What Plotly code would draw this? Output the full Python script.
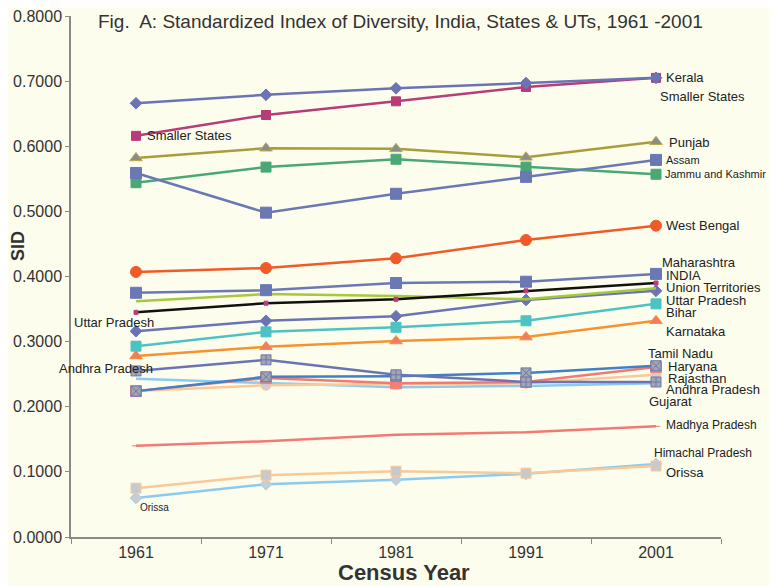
import plotly.graph_objects as go

years = ["1961", "1971", "1981", "1991", "2001"]

smaller_states = [0.666, 0.679, 0.689, 0.697, 0.705]
kerala = [0.616, 0.648, 0.669, 0.691, 0.705]
punjab = [0.582, 0.597, 0.596, 0.583, 0.607]
jammu_kashmir = [0.544, 0.568, 0.580, 0.568, 0.557]
assam = [0.559, 0.498, 0.527, 0.553, 0.579]
west_bengal = [0.407, 0.413, 0.428, 0.456, 0.478]
india = [0.375, 0.379, 0.390, 0.392, 0.404]
union_territories = [0.362, 0.373, 0.370, 0.365, 0.382]
maharashtra = [0.345, 0.359, 0.365, 0.378, 0.390]
uttar_pradesh = [0.316, 0.332, 0.339, 0.364, 0.378]
bihar = [0.293, 0.315, 0.322, 0.332, 0.358]
karnataka = [0.278, 0.292, 0.301, 0.307, 0.332]
andhra_pradesh = [0.255, 0.272, 0.249, 0.238, 0.238]
tamil_nadu = [0.224, 0.246, 0.247, 0.252, 0.263]
haryana = [0.224, 0.244, 0.236, 0.238, 0.261]
rajasthan = [0.224, 0.233, 0.235, 0.236, 0.249]
gujarat = [0.243, 0.236, 0.230, 0.232, 0.236]
madhya_pradesh = [0.140, 0.147, 0.157, 0.161, 0.170]
himachal_pradesh = [0.075, 0.095, 0.101, 0.098, 0.109]
orissa = [0.060, 0.081, 0.088, 0.097, 0.112]

y_ticks = [0.0, 0.1, 0.2, 0.3, 0.4, 0.5, 0.6, 0.7, 0.8]
y_tick_text = ["0.0000", "0.1000", "0.2000", "0.3000", "0.4000", "0.5000", "0.6000", "0.7000", "0.8000"]

fig = go.Figure()

def add(name, vals, color, symbol=None, size=9, mfill=None, mline=None, width=2.5):
    if symbol is None:
        mode = "lines"
        marker = None
    else:
        mode = "lines+markers"
        marker = dict(symbol=symbol, size=size, color=mfill or color,
                      line=dict(color=mline or (mfill or color), width=1))
    fig.add_trace(go.Scatter(x=years, y=vals, name=name, mode=mode,
                             line=dict(color=color, width=width),
                             marker=marker))

add("Orissa", orissa, "#8ccbee", "diamond", 9, "#c8ccd4", "#9fd0ee")
add("Himachal Pradesh", himachal_pradesh, "#f9c998", "square", 10, "#c9c9cb", "#f9c998")
add("Madhya Pradesh", madhya_pradesh, "#f27a72", "line-ew", 6, "#f27a72", "#f27a72")
add("Gujarat", gujarat, "#8ccbee")
add("Rajasthan", rajasthan, "#f9c998", "circle", 10, "#cfcfd1", "#f9c998")
add("Haryana", haryana, "#f27a72", "square", 11, "#f28078", "#f28078")
add("Tamil Nadu", tamil_nadu, "#3f80c8", "square-x", 10, "#a4a6ac", "#6a78b4")
add("Andhra Pradesh", andhra_pradesh, "#6a74b4", "square-cross", 10, "#a4a6ac", "#6a78b4")
add("Karnataka", karnataka, "#f7922e", "triangle-up", 11, "#f27c62", "#f7922e")
add("Bihar", bihar, "#4cc3c2", "square", 10)
add("Uttar Pradesh", uttar_pradesh, "#6a74b4", "diamond", 9)
add("Union Territories", union_territories, "#a6c93c")
add("Maharashtra", maharashtra, "#111111", "square", 4, "#b83c78", "#b83c78")
add("INDIA", india, "#6a78b4", "square", 11)
add("West Bengal", west_bengal, "#f05a28", "circle", 11)
add("Jammu and Kashmir", jammu_kashmir, "#4aa874", "square", 10)
add("Assam", assam, "#6a78b4", "square", 11)
add("Punjab", punjab, "#a89d3c", "triangle-up", 11, "#8c8c8c", "#b8aa48")
add("Kerala", kerala, "#b83c78", "square", 9)
add("Smaller States", smaller_states, "#6a74b4", "diamond", 9)

# plot area in page pixels (page has an 8px body margin)
OFF = 8
L, R, T, B = 71, 721, 16, 537
W = R - L
FW, FH = 777 - OFF, 586 - OFF

def px(x, y):
    return (x - L) / W, (B - y) / (B - T)

labels = [
    ("Smaller States", 145, 136, 13),
    ("Kerala", 664, 77, 13),
    ("Smaller States", 658, 96, 13),
    ("Punjab", 667, 142, 13),
    ("Assam", 664, 160, 11),
    ("Jammu and Kashmir", 663, 174, 11),
    ("West Bengal", 664, 225, 13),
    ("Maharashtra", 660, 263, 13),
    ("INDIA", 664, 275, 13),
    ("Union Territories", 664, 287, 13),
    ("Uttar Pradesh", 664, 300, 13),
    ("Bihar", 664, 312, 13),
    ("Karnataka", 664, 331, 13),
    ("Tamil Nadu", 646, 353, 13),
    ("Haryana", 666, 366, 13),
    ("Rajasthan", 666, 378, 13),
    ("Andhra Pradesh", 664, 390, 13),
    ("Gujarat", 647, 401, 13),
    ("Madhya Pradesh", 664, 425, 12),
    ("Himachal Pradesh", 652, 453, 12),
    ("Orissa", 664, 472, 13),
    ("Uttar Pradesh", 72, 322, 13),
    ("Andhra Pradesh", 57, 369, 13),
    ("Orissa", 138, 507, 10),
]
for text, x, y, s in labels:
    xp, yp = px(x, y)
    fig.add_annotation(x=xp, y=yp, xref="paper", yref="paper", text=text,
                       showarrow=False, xanchor="left", yanchor="middle",
                       font=dict(family="Liberation Sans, Arial", size=s, color="#222222"))

tx, ty = px(96, 22)
fig.add_annotation(x=tx, y=ty, xref="paper", yref="paper",
                   text="Fig.  A: Standardized Index of Diversity, India, States & UTs, 1961 -2001",
                   showarrow=False, xanchor="left", yanchor="middle",
                   font=dict(family="Liberation Sans, Arial", size=19, color="#333333"))

sx, sy = px(18, 246)
fig.add_annotation(x=sx, y=sy, xref="paper", yref="paper", text="<b>SID</b>",
                   showarrow=False, textangle=-90, xanchor="center", yanchor="middle",
                   font=dict(family="Liberation Sans, Arial", size=18, color="#333333"))

cx, cy = px(404, 572)
fig.add_annotation(x=cx, y=cy, xref="paper", yref="paper", text="<b>Census Year</b>",
                   showarrow=False, xanchor="center", yanchor="middle",
                   font=dict(family="Liberation Sans, Arial", size=22, color="#333333"))

fig.add_shape(type="rect", xref="paper", yref="paper", x0=(769 - L) / W, x1=(785 - L) / W,
              y0=-0.2, y1=1.2, fillcolor="#f4f1ee", line=dict(width=0), layer="below")

fig.update_layout(
    width=FW, height=FH,
    margin=dict(l=L - OFF, r=FW - (R - OFF), t=T - OFF, b=FH - (B - OFF), autoexpand=False),
    paper_bgcolor="#fdfdee", plot_bgcolor="#fdfdee",
    showlegend=False,
    font=dict(family="Liberation Sans, Arial", color="#333333"),
    xaxis=dict(type="category", showgrid=False, showline=True, linecolor="#8a8a8a",
               linewidth=1.5, ticks="outside", ticklen=5, tickcolor="#8a8a8a",
               tickson="boundaries", range=[-0.5, 4.5], automargin=False,
               ticklabeloverflow="allow",
               tickfont=dict(family="Liberation Sans, Arial", size=16, color="#333333")),
    yaxis=dict(range=[0, 0.8], tickvals=y_ticks, ticktext=y_tick_text, showgrid=False,
               zeroline=False, showline=True, linecolor="#8a8a8a", linewidth=1.5,
               ticks="outside", ticklen=4, tickcolor="#8a8a8a", automargin=False,
               ticklabeloverflow="allow",
               tickfont=dict(family="Liberation Sans, Arial", size=16, color="#333333")),
)

fig.write_html("out.html")
